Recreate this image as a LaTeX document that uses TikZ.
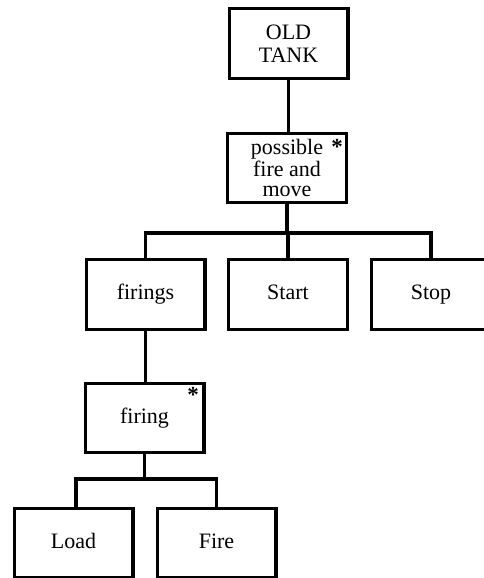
\documentclass[tikz,border=0pt]{standalone}
\usepackage{fontspec}
\setmainfont{Liberation Serif}
\begin{document}
\begin{tikzpicture}[x=1pt,y=-1pt,
  box/.style={draw, line width=3.2pt, minimum width=118.8pt, minimum height=69.5pt,
    inner sep=0pt, align=center, font=\fontsize{22}{23.5}\selectfont},
  one/.style={text height=15pt, text depth=4.5pt},
  link/.style={line width=3.2pt},
  star/.style={font=\fontsize{23}{23}\selectfont\bfseries, inner sep=0pt, anchor=north}]
\useasboundingbox (0,0) rectangle (484,578);
\clip (0,0) rectangle (484,578);

% boxes
\node[box] (old) at (288.5,43.5) {OLD\\TANK};
\node[box, font=\fontsize{22}{20}\selectfont] (poss) at (287,168) {possible\\fire and\\move};
\node[box, one] (firings) at (145.5,294.5) {firings};
\node[box, one] (start) at (288,294.5) {Start};
\node[box, one] (stop) at (431,294.5) {Stop};
\node[box, one] (firing) at (144.5,418) {firing};
\node[box, one] (load) at (73.5,543) {Load};
\node[box, one] (fire) at (216.5,543) {Fire};

% iteration marks
\node[star] (s1) at (337,139) {*};
\node[star] (s2) at (193,387) {*};

% junction points of the branch bars
\coordinate (b1) at (288,233);
\coordinate (b2) at (145.5,479);

% connectors
\draw[link] (old.south) -- (old.south |- poss.north);
\draw[link] (poss.south) -- (poss.south |- b1);
\draw[link] (firings.north) |- (b1) -| (stop.north);
\draw[link] (b1) -- (start.north);
\draw[link] (firings.south) -- (firings.south |- firing.north);
\draw[link] (firing.south) -- (firing.south |- b2);
\draw[link] ([xshift=2.5pt]load.north) |- (b2) -| (fire.north);
\end{tikzpicture}
\end{document}
